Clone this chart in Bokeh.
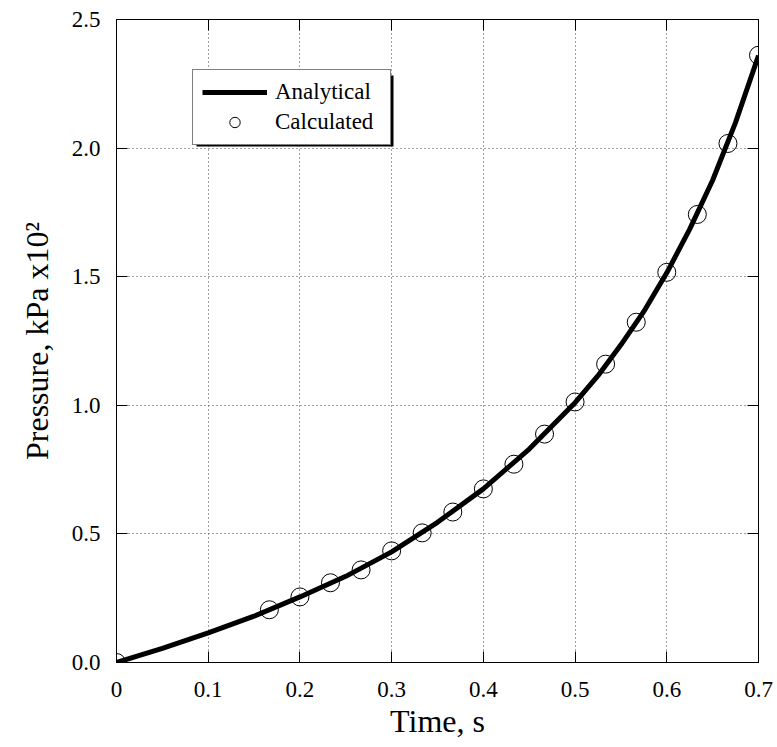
from bokeh.plotting import figure
from bokeh.models import (Range1d, LinearAxis, FixedTicker, Legend, LegendItem,
                          BoxAnnotation, PrintfTickFormatter, CustomLabelingPolicy)
from bokeh.embed import file_html
from bokeh.resources import INLINE

# Analytical curve
t_analytical = [0.0, 0.05, 0.1, 0.15, 0.2, 0.25, 0.3, 0.35, 0.4, 0.45, 0.5,
                0.525, 0.55, 0.575, 0.6, 0.625, 0.65, 0.675, 0.7]
p_analytical = [0.0, 0.055, 0.115, 0.18, 0.255, 0.335, 0.43, 0.545, 0.675,
                0.83, 1.01, 1.115, 1.235, 1.365, 1.515, 1.685, 1.875, 2.10, 2.36]

# Calculated points
t_calc = [0.0, 0.1667, 0.2, 0.2333, 0.2667, 0.3, 0.3333, 0.3667, 0.4, 0.4333,
          0.4667, 0.5, 0.5333, 0.5667, 0.6, 0.6333, 0.6667, 0.7]
p_calc = [0.0, 0.205, 0.255, 0.31, 0.36, 0.434, 0.504, 0.585, 0.675, 0.771,
          0.888, 1.013, 1.16, 1.323, 1.517, 1.742, 2.018, 2.361]

x_ticks = [0.0, 0.1, 0.2, 0.3, 0.4, 0.5, 0.6, 0.7]
y_ticks = [0.0, 0.5, 1.0, 1.5, 2.0, 2.5]

FONT = "Liberation Serif"

p = figure(width=777, height=747, output_backend="svg", toolbar_location=None,
           x_range=Range1d(0, 0.7), y_range=Range1d(0, 2.5),
           min_border_left=116, min_border_right=19, min_border_top=19,
           min_border_bottom=85, background_fill_color="white",
           border_fill_color="white")
p.outline_line_color = "black"
p.outline_line_width = 1

p.xaxis.ticker = FixedTicker(ticks=x_ticks)
p.yaxis.ticker = FixedTicker(ticks=y_ticks)
p.xaxis.major_label_overrides = {0: "0"}
p.xaxis.formatter = PrintfTickFormatter(format="%.1f")
p.yaxis.formatter = PrintfTickFormatter(format="%.1f")

for ax in (p.xaxis[0], p.yaxis[0]):
    ax.major_tick_in = 11
    ax.major_tick_out = 0
    ax.minor_tick_in = 0
    ax.minor_tick_out = 0
    ax.axis_line_color = "black"
    ax.major_tick_line_color = "black"
    ax.major_label_text_font = FONT
    ax.major_label_text_font_size = "23px"
    ax.major_label_text_color = "black"
    ax.axis_label_text_font = FONT
    ax.axis_label_text_font_size = "32px"
    ax.axis_label_text_font_style = "normal"
    ax.axis_label_text_color = "black"

p.xaxis.axis_label = "Time, s"
p.yaxis.axis_label = "Pressure, kPa x10²"
p.xaxis.major_label_standoff = 19
p.yaxis.major_label_standoff = 16
p.xaxis.axis_label_standoff = 3
p.yaxis.axis_label_standoff = 14

# Right and top axes with inward ticks only (labels suppressed)
no_labels = """
const result = new Set()
return result
"""
right = LinearAxis(ticker=FixedTicker(ticks=y_ticks),
                   major_label_policy=CustomLabelingPolicy(code=no_labels),
                   major_tick_in=11, major_tick_out=0, minor_tick_in=0, minor_tick_out=0,
                   major_label_standoff=0)
top = LinearAxis(ticker=FixedTicker(ticks=x_ticks),
                 major_label_policy=CustomLabelingPolicy(code=no_labels),
                 major_tick_in=11, major_tick_out=0, minor_tick_in=0, minor_tick_out=0,
                 major_label_standoff=0)
p.add_layout(right, "right")
p.add_layout(top, "above")

p.xgrid.ticker = FixedTicker(ticks=x_ticks)
p.ygrid.ticker = FixedTicker(ticks=y_ticks)
p.grid.grid_line_color = "#444444"
p.grid.grid_line_dash = "1 3"
p.grid.grid_line_width = 1

r_line = p.line(t_analytical, p_analytical, line_color="black", line_width=5,
                line_join="round")
r_pts = p.scatter(t_calc, p_calc, marker="circle", size=18, fill_color=None,
                  line_color="black", line_width=1)

# legend shadow
shadow = BoxAnnotation(left=196, right=393, top=75, bottom=146,
                       left_units="canvas", right_units="canvas",
                       top_units="canvas", bottom_units="canvas",
                       fill_color="black", fill_alpha=1, line_color=None)
p.add_layout(shadow)

legend = Legend(items=[LegendItem(label="Analytical", renderers=[r_line]),
                       LegendItem(label="Calculated", renderers=[r_pts])],
                location=(76, 517), orientation="vertical",
                border_line_color="black", border_line_width=1.5,
                background_fill_color="white", background_fill_alpha=1,
                label_text_font=FONT, label_text_font_size="23px",
                label_text_color="black",
                glyph_width=65, glyph_height=26, label_height=26, label_width=106,
                label_standoff=8, padding=9, spacing=4, margin=0)
p.add_layout(legend, "center")

open("out.html", "w").write(file_html(p, INLINE))
